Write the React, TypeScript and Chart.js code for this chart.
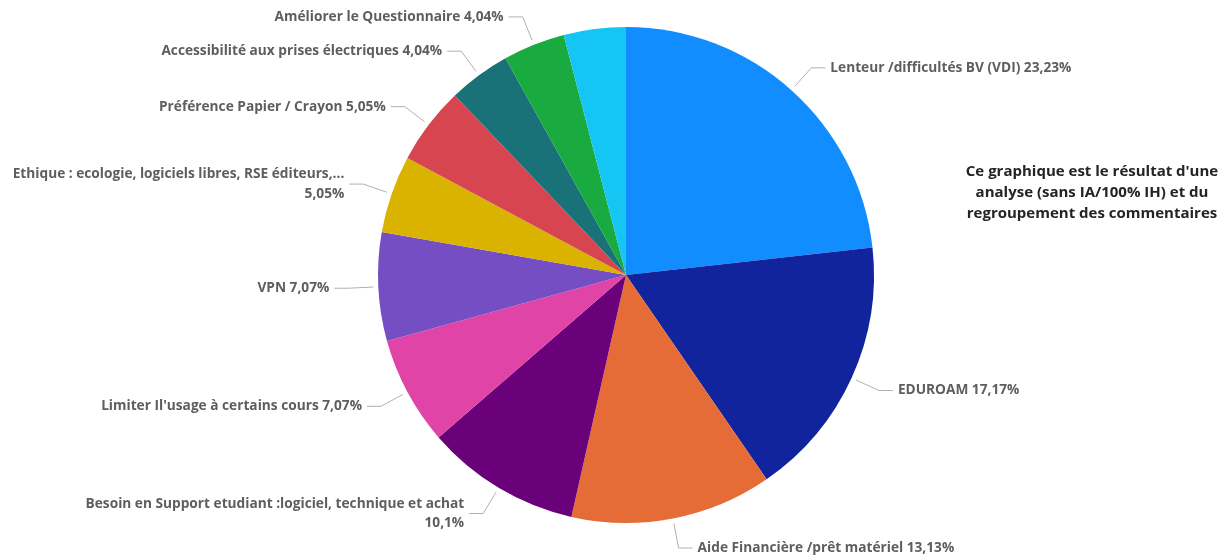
import React, { useEffect, useRef } from "react";
import { Chart, registerables } from "chart.js";
Chart.register(...registerables);

const categories = [
  "Lenteur /difficultés BV (VDI)",
  "EDUROAM",
  "Aide Financière /prêt matériel",
  "Besoin en Support etudiant :logiciel, technique et achat",
  "Limiter Il'usage à certains cours",
  "VPN",
  "Ethique : ecologie, logiciels libres, RSE éditeurs,...",
  "Préférence Papier / Crayon",
  "Accessibilité aux prises électriques",
  "Améliorer le Questionnaire",
  "",
];
const values = [23.23, 17.17, 13.13, 10.1, 7.07, 7.07, 5.05, 5.05, 4.04, 4.04, 4.04];
const colors = [
  "#118DFF", "#12239E", "#E66C37", "#6B007B", "#E044A7", "#744EC2",
  "#D9B300", "#D64550", "#197278", "#1AAB40", "#15C6F4",
];
const noteLines = [
  "Ce graphique est le résultat d'une",
  "analyse (sans IA/100% IH) et du",
  "regroupement des commentaires",
];

const LABEL_FONT = 'bold 13.7px "Open Sans"';
const LABEL_COLOR = "#605E5C";
const LEADER_COLOR = "#B3B0AD";
const WRAP_MAX = 340;

const labelPlugin = {
  id: "leaderLabels",
  afterDatasetsDraw(chart: any) {
    const ctx = chart.ctx;
    const meta = chart.getDatasetMeta(0);
    ctx.save();
    ctx.font = LABEL_FONT;
    meta.data.forEach((arc: any, i: number) => {
      const name = categories[i];
      if (!name) return;
      const p = arc.getProps(["x", "y", "startAngle", "endAngle", "outerRadius"], true);
      const mid = (p.startAngle + p.endAngle) / 2;
      const c = Math.cos(mid);
      const s = Math.sin(mid);
      const r = p.outerRadius;
      const x0 = p.x + c * (r + 5);
      const y0 = p.y + s * (r + 5);
      const x1 = p.x + c * (r + 30);
      const y1 = p.y + s * (r + 30);
      const dir = c >= 0 ? 1 : -1;
      const x2 = x1 + dir * 14;
      ctx.strokeStyle = LEADER_COLOR;
      ctx.lineWidth = 1;
      ctx.beginPath();
      ctx.moveTo(x0, y0);
      ctx.lineTo(x1, y1);
      ctx.lineTo(x2, y1);
      ctx.stroke();
      const pct = String(values[i]).replace(".", ",") + "%";
      const full = name + " " + pct;
      const lines = ctx.measureText(full).width > WRAP_MAX ? [name, pct] : [full];
      ctx.fillStyle = LABEL_COLOR;
      ctx.textAlign = dir > 0 ? "left" : "right";
      ctx.textBaseline = "middle";
      const lh = 19.5;
      const startY = y1 - ((lines.length - 1) * lh) / 2;
      lines.forEach((t, k) => ctx.fillText(t, x2 + dir * 5, startY + k * lh));
    });
    ctx.restore();
  },
};

export default function App() {
  const ref = useRef<HTMLCanvasElement | null>(null);
  useEffect(() => {
    if (!ref.current) return;
    const chart = new Chart(ref.current, {
      type: "pie",
      data: {
        labels: categories,
        datasets: [
          {
            data: values,
            backgroundColor: colors,
            borderWidth: 0,
          },
        ],
      },
      options: {
        animation: false,
        responsive: false,
        layout: { padding: { left: 100, right: 71, top: 27, bottom: 34 } },
        plugins: {
          legend: { display: false },
          tooltip: { enabled: false },
        },
      },
      plugins: [labelPlugin],
    });
    return () => chart.destroy();
  }, []);
  return (
    <div style={{ position: "absolute", left: 0, top: 0, width: 1223, height: 557, background: "#fff" }}>
      <canvas ref={ref} width={1223} height={557} />
      <div
        style={{
          position: "absolute",
          left: 942,
          top: 160,
          width: 300,
          textAlign: "center",
          fontFamily: '"Open Sans", sans-serif',
          fontWeight: 700,
          fontSize: 15,
          lineHeight: "21px",
          color: "#252423",
        }}
      >
        {noteLines.map((l, i) => (
          <div key={i}>{l}</div>
        ))}
      </div>
    </div>
  );
}
